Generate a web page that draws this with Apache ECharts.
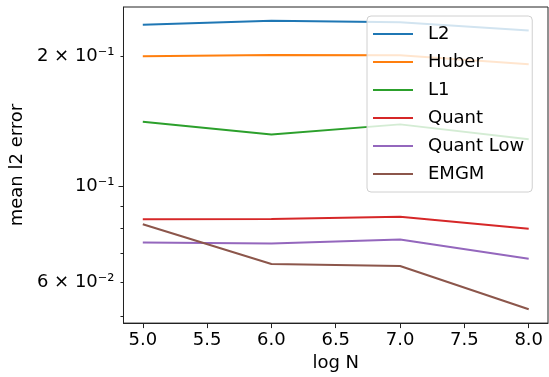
<!DOCTYPE html>
<html>
<head>
<meta charset="utf-8">
<script src="https://cdn.jsdelivr.net/npm/echarts@6/dist/echarts.min.js"></script>
<style>
    html, body { margin: 0; padding: 0; background: #fff; }
    #chart { width: 549px; height: 377px; }
</style>
</head>
<body>
<div id="chart"></div>
<script>
// values
const logN = [5.0, 6.0, 7.0, 8.0];
const l2 = [0.2370, 0.2423, 0.2404, 0.2301];
const huber = [0.2005, 0.2019, 0.2016, 0.1921];
const l1 = [0.1413, 0.1320, 0.1394, 0.1287];
const quant = [0.0840, 0.0841, 0.0852, 0.0799];
const quantLow = [0.0742, 0.0738, 0.0754, 0.0681];
const emgm = [0.0818, 0.0662, 0.0655, 0.0520];

const xTicks = [5.0, 5.5, 6.0, 6.5, 7.0, 7.5, 8.0];
const yLabelValues = [0.06, 0.1, 0.2];
const yLabelTexts = ['6 × 10⁻²', '10⁻¹', '2 × 10⁻¹'];
const yMajorTicks = [0.1];
const yMinorTicks = [0.05, 0.06, 0.07, 0.08, 0.09, 0.2];

const names = ['L2', 'Huber', 'L1', 'Quant', 'Quant Low', 'EMGM'];
const values = [l2, huber, l1, quant, quantLow, emgm];
const colors = ['#1f77b4', '#ff7f0e', '#2ca02c', '#d62728', '#9467bd', '#8c564b'];

const font = 'DejaVu Sans';
const fs = 18;

const yLabel = (v) => {
    let best = 0;
    yLabelValues.forEach((t, i) => {
        if (Math.abs(t - v) < Math.abs(yLabelValues[best] - v)) best = i;
    });
    return yLabelTexts[best];
};

const chart = echarts.init(document.getElementById('chart'), null, { renderer: 'canvas' });

const option = {
    animation: false,
    backgroundColor: '#fff',
    textStyle: { fontFamily: font },
    grid: {
        left: 120,
        top: 7,
        right: 1,
        bottom: 51,
        show: true,
        borderColor: '#222',
        borderWidth: 1,
        backgroundColor: 'transparent'
    },
    legend: {
        orient: 'vertical',
        left: 367,
        top: 16,
        width: 171,
        padding: [8, 8, 8, 6],
        itemWidth: 40,
        itemHeight: 2,
        itemGap: 8,
        icon: 'rect',
        backgroundColor: 'rgba(255,255,255,0.8)',
        borderColor: '#d0d0d0',
        borderWidth: 1,
        borderRadius: 4,
        textStyle: {
            fontFamily: font,
            fontSize: fs,
            color: '#000',
            lineHeight: 20,
            padding: [0, 0, 0, 10]
        },
        data: names
    },
    xAxis: {
        type: 'value',
        min: 4.85,
        max: 8.15,
        name: 'log N',
        nameLocation: 'middle',
        nameGap: 30,
        nameTextStyle: { fontFamily: font, fontSize: fs, color: '#000' },
        axisLine: { show: true, onZero: false, lineStyle: { color: '#222', width: 1 } },
        axisTick: { show: true, length: 5, customValues: xTicks, lineStyle: { color: '#222' } },
        axisLabel: {
            customValues: xTicks,
            margin: 8,
            fontFamily: font,
            fontSize: fs,
            color: '#000',
            formatter: (v) => v.toFixed(1)
        },
        splitLine: { show: false }
    },
    yAxis: [
        {
            type: 'log',
            logBase: 10,
            min: 0.0483,
            max: 0.2607,
            name: 'mean l2 error',
            nameLocation: 'middle',
            nameGap: 96,
            nameTextStyle: { fontFamily: font, fontSize: fs, color: '#000' },
            axisLine: { show: true, lineStyle: { color: '#222', width: 1 } },
            axisTick: { show: true, length: 5, customValues: yMajorTicks, lineStyle: { color: '#222' } },
            axisLabel: {
                customValues: yLabelValues,
                margin: 9,
                fontFamily: font,
                fontSize: fs,
                color: '#000',
                formatter: yLabel
            },
            splitLine: { show: false }
        },
        {
            type: 'log',
            logBase: 10,
            min: 0.0483,
            max: 0.2607,
            position: 'left',
            axisLine: { show: false },
            axisTick: { show: true, length: 3, customValues: yMinorTicks, lineStyle: { color: '#222' } },
            axisLabel: { show: false },
            splitLine: { show: false }
        }
    ],
    series: names.map((name, i) => ({
        name: name,
        type: 'line',
        yAxisIndex: 0,
        data: logN.map((x, j) => [x, values[i][j]]),
        showSymbol: false,
        symbol: 'none',
        lineStyle: { color: colors[i], width: 2 },
        itemStyle: { color: colors[i] }
    }))
};

chart.setOption(option);
</script>
</body>
</html>
